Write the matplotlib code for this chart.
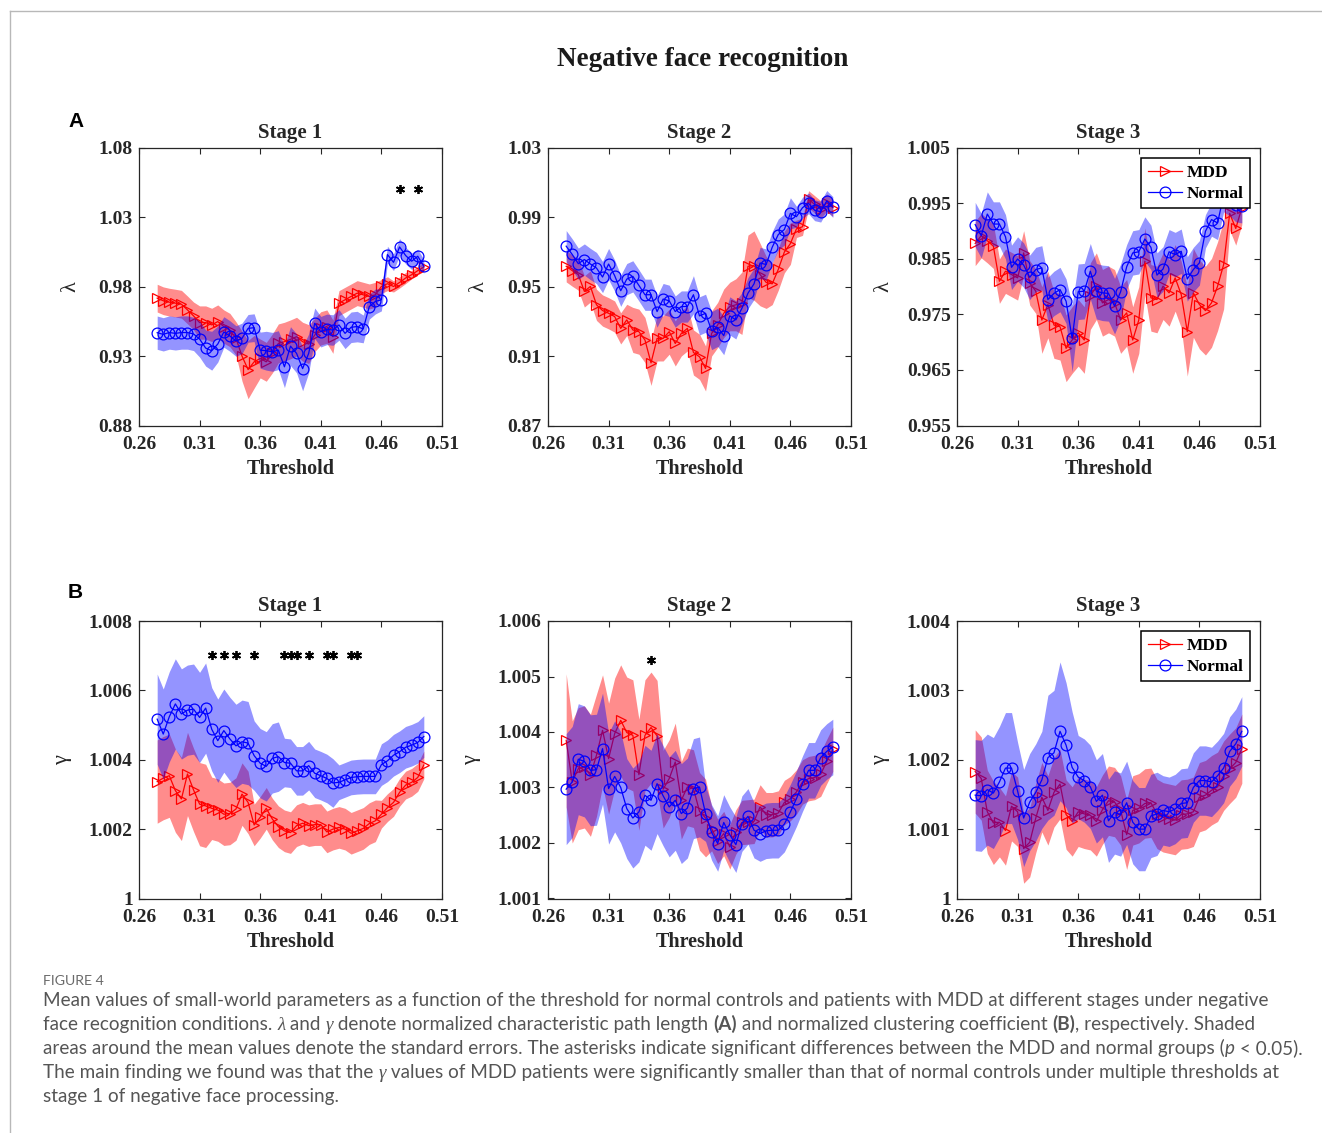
import numpy as np
import matplotlib
matplotlib.use("Agg")
import matplotlib.pyplot as plt
from matplotlib.lines import Line2D

W, H = 1322, 1133
plt.rcParams["font.family"] = ["Liberation Serif", "DejaVu Serif"]
plt.rcParams["font.weight"] = "bold"

# network threshold grid (x axis)
thresholds = np.round(0.275 + 0.005 * np.arange(45), 3)

# ---------------- lambda, stage 1 ----------------
lam1_mdd = [0.9718, 0.9699, 0.9689, 0.9682, 0.9674, 0.9633, 0.9590, 0.9542, 0.9542, 0.9525,
            0.9549, 0.9513, 0.9488, 0.9428, 0.9300, 0.9203, 0.9259, 0.9283, 0.9259, 0.9319,
            0.9392, 0.9404, 0.9421, 0.9440, 0.9404, 0.9387, 0.9452, 0.9500, 0.9513, 0.9440,
            0.9682, 0.9706, 0.9730, 0.9754, 0.9742, 0.9730, 0.9742, 0.9802, 0.9822, 0.9802,
            0.9831, 0.9863, 0.9887, 0.9916, 0.9942]
lam1_mdd_se = [0.010] * 7 + [0.012] * 7 + [0.018, 0.021, 0.019] + [0.014] * 9 + [0.012] * 4 + \
              [0.009] * 7 + [0.005, 0.005, 0.004, 0.004, 0.004, 0.003, 0.003, 0.003]
lam1_norm = [0.9469, 0.9457, 0.9470, 0.9464, 0.9470, 0.9470, 0.9460, 0.9423, 0.9358, 0.9339,
             0.9387, 0.9474, 0.9445, 0.9409, 0.9428, 0.9500, 0.9505, 0.9343, 0.9339, 0.9331,
             0.9343, 0.9223, 0.9372, 0.9320, 0.9210, 0.9320, 0.9537, 0.9476, 0.9493, 0.9488,
             0.9525, 0.9464, 0.9508, 0.9513, 0.9496, 0.9657, 0.9694, 0.9706, 1.0032, 0.9976,
             1.0087, 1.0025, 0.9984, 1.0020, 0.9947]
lam1_norm_se = [0.012] * 7 + [0.013, 0.013, 0.014, 0.013] + [0.011, 0.011, 0.011, 0.011, 0.010, 0.010] + \
               [0.013, 0.014, 0.014, 0.014, 0.015, 0.014, 0.014, 0.016, 0.014] + [0.011] * 8 + [0.010] + \
               [0.009, 0.009, 0.008] + [0.006] * 5 + [0.005, 0.005]
lam1_sig = [0.475, 0.49]

# ---------------- lambda, stage 2 ----------------
lam2_mdd = [0.9618, 0.9593, 0.9570, 0.9473, 0.9502, 0.9396, 0.9363, 0.9347, 0.9328, 0.9260,
            0.9309, 0.9251, 0.9241, 0.9193, 0.9061, 0.9202, 0.9202, 0.9241, 0.9173, 0.9231,
            0.9260, 0.9121, 0.9096, 0.9029, 0.9231, 0.9280, 0.9347, 0.9386, 0.9396, 0.9405,
            0.9618, 0.9622, 0.9570, 0.9525, 0.9517, 0.9600, 0.9700, 0.9749, 0.9834, 0.9846,
            1.0004, 0.9975, 0.9946, 0.9985, 0.9956]
lam2_mdd_se = [0.009] * 11 + [0.013] * 15 + [0.014, 0.014, 0.015, 0.018, 0.018, 0.020, 0.018, 0.015] + \
              [0.012] * 4 + [0.005] * 7
lam2_norm = [0.9734, 0.9686, 0.9633, 0.9657, 0.9631, 0.9608, 0.9556, 0.9631, 0.9564, 0.9477,
             0.9544, 0.9560, 0.9508, 0.9454, 0.9454, 0.9357, 0.9429, 0.9419, 0.9357, 0.9386,
             0.9386, 0.9454, 0.9332, 0.9347, 0.9247, 0.9266, 0.9218, 0.9332, 0.9309, 0.9376,
             0.9463, 0.9517, 0.9637, 0.9628, 0.9728, 0.9801, 0.9830, 0.9923, 0.9904, 0.9956,
             0.9981, 0.9941, 0.9933, 0.9995, 0.9960]
lam2_norm_se = [0.009] * 21 + [0.011] * 8 + [0.009] * 9 + [0.006] * 7

# ---------------- lambda, stage 3 ----------------
lam3_mdd = [0.9878, 0.9892, 0.9883, 0.9873, 0.9810, 0.9828, 0.9822, 0.9816, 0.9861, 0.9807,
            0.9792, 0.9740, 0.9768, 0.9731, 0.9728, 0.9689, 0.9704, 0.9717, 0.9704, 0.9783,
            0.9801, 0.9771, 0.9777, 0.9771, 0.9740, 0.9753, 0.9704, 0.9740, 0.9846, 0.9780,
            0.9777, 0.9801, 0.9789, 0.9816, 0.9786, 0.9719, 0.9789, 0.9768, 0.9757, 0.9771,
            0.9801, 0.9840, 0.9932, 0.9905, 0.9942]
lam3_mdd_se = [0.004] * 11 + [0.006] * 24 + [0.008] * 7 + [0.003] * 3
lam3_norm = [0.9912, 0.9892, 0.9931, 0.9913, 0.9913, 0.9890, 0.9835, 0.9850, 0.9839, 0.9817,
             0.9831, 0.9834, 0.9777, 0.9788, 0.9795, 0.9774, 0.9707, 0.9791, 0.9792, 0.9828,
             0.9792, 0.9789, 0.9788, 0.9765, 0.9791, 0.9836, 0.9861, 0.9863, 0.9886, 0.9871,
             0.9821, 0.9832, 0.9863, 0.9858, 0.9864, 0.9814, 0.9831, 0.9843, 0.9900, 0.9921,
             0.9915, 0.9965, 0.9958, 0.9947, 0.9945]
lam3_norm_se = [0.004] * 16 + [0.006] + [0.005] * 8 + [0.004] * 13 + [0.003] * 7

# ---------------- gamma, stage 1 ----------------
gam1_mdd = [1.00337, 1.00347, 1.00354, 1.00311, 1.00287, 1.00359, 1.00313, 1.00272, 1.00267, 1.00260,
            1.00255, 1.00243, 1.00245, 1.00258, 1.00301, 1.00277, 1.00212, 1.00234, 1.00260, 1.00229,
            1.00207, 1.00195, 1.00190, 1.00210, 1.00217, 1.00210, 1.00213, 1.00213, 1.00192, 1.00200,
            1.00205, 1.00200, 1.00188, 1.00195, 1.00202, 1.00216, 1.00224, 1.00243, 1.00262, 1.00277,
            1.00306, 1.00327, 1.00335, 1.00349, 1.00385]
gam1_mdd_se = [0.0012] * 9 + [0.0009] * 7 + [0.0006] * 21 + [0.0004] * 8
gam1_norm = [1.00517, 1.00474, 1.00524, 1.00561, 1.00532, 1.00543, 1.00546, 1.00522, 1.00549, 1.00488,
             1.00455, 1.00484, 1.00460, 1.00440, 1.00452, 1.00448, 1.00412, 1.00390, 1.00381, 1.00404,
             1.00409, 1.00392, 1.00390, 1.00368, 1.00368, 1.00383, 1.00361, 1.00354, 1.00346, 1.00333,
             1.00335, 1.00342, 1.00349, 1.00351, 1.00352, 1.00352, 1.00352, 1.00386, 1.00397, 1.00413,
             1.00423, 1.00436, 1.00442, 1.00450, 1.00467]
gam1_norm_se = [0.0013] * 9 + [0.0012] * 7 + [0.0010] * 5 + [0.0007] * 9 + [0.0005] * 7 + [0.0006] * 8
gam1_sig = [0.32, 0.33, 0.34, 0.355, 0.38, 0.385, 0.39, 0.40, 0.415, 0.42, 0.435, 0.44]

# ---------------- gamma, stage 2 ----------------
gam2_mdd = [1.00385, 1.00310, 1.00334, 1.00337, 1.00322, 1.00358, 1.00403, 1.00352, 1.00397, 1.00421,
            1.00399, 1.00394, 1.00323, 1.00394, 1.00408, 1.00393, 1.00297, 1.00316, 1.00346, 1.00277,
            1.00301, 1.00298, 1.00257, 1.00245, 1.00226, 1.00203, 1.00217, 1.00193, 1.00220, 1.00237,
            1.00238, 1.00239, 1.00265, 1.00251, 1.00251, 1.00254, 1.00273, 1.00280, 1.00292, 1.00310,
            1.00316, 1.00318, 1.00324, 1.00347, 1.00369]
gam2_mdd_se = [0.0012] + [0.0011] * 5 + [0.0010] * 10 + [0.0007] * 8 + [0.0004] * 21
gam2_norm = [1.00297, 1.00310, 1.00351, 1.00347, 1.00331, 1.00332, 1.00370, 1.00298, 1.00320, 1.00300,
             1.00262, 1.00245, 1.00256, 1.00286, 1.00277, 1.00307, 1.00285, 1.00265, 1.00277, 1.00253,
             1.00263, 1.00298, 1.00301, 1.00253, 1.00219, 1.00199, 1.00237, 1.00215, 1.00197, 1.00235,
             1.00248, 1.00223, 1.00217, 1.00222, 1.00223, 1.00223, 1.00234, 1.00256, 1.00280, 1.00307,
             1.00331, 1.00331, 1.00354, 1.00365, 1.00373]
gam2_norm_se = [0.0010] * 10 + [0.0009] * 13 + [0.0005] * 22
gam2_sig = [0.345]

# ---------------- gamma, stage 3 ----------------
gam3_mdd = [1.00183, 1.00173, 1.00125, 1.00109, 1.00110, 1.00098, 1.00133, 1.00125, 1.00072, 1.00081,
            1.00116, 1.00146, 1.00127, 1.00153, 1.00165, 1.00121, 1.00111, 1.00125, 1.00122, 1.00120,
            1.00111, 1.00128, 1.00141, 1.00139, 1.00127, 1.00092, 1.00127, 1.00130, 1.00137, 1.00138,
            1.00122, 1.00117, 1.00115, 1.00113, 1.00121, 1.00122, 1.00125, 1.00146, 1.00149, 1.00156,
            1.00161, 1.00177, 1.00187, 1.00196, 1.00216]
gam3_mdd_se = [0.0006] * 4 + [0.0005] * 41
gam3_norm = [1.00149, 1.00148, 1.00157, 1.00152, 1.00168, 1.00188, 1.00188, 1.00155, 1.00116, 1.00139,
             1.00153, 1.00171, 1.00203, 1.00210, 1.00241, 1.00221, 1.00189, 1.00175, 1.00170, 1.00161,
             1.00140, 1.00149, 1.00112, 1.00124, 1.00121, 1.00138, 1.00110, 1.00100, 1.00100, 1.00119,
             1.00122, 1.00127, 1.00125, 1.00129, 1.00137, 1.00138, 1.00160, 1.00170, 1.00170, 1.00168,
             1.00177, 1.00188, 1.00212, 1.00223, 1.00241]
gam3_norm_se = [0.0008] * 7 + [0.0007] * 5 + [0.0009, 0.0009, 0.0010, 0.0009, 0.0008] + [0.0006] * 14 + [0.0005] * 14

# axis ticks
x_ticks = [0.26, 0.31, 0.36, 0.41, 0.46, 0.51]
x_tick_labels = ["0.26", "0.31", "0.36", "0.41", "0.46", "0.51"]
lam1_ticks = ["0.88", "0.93", "0.98", "1.03", "1.08"]
lam2_ticks = ["0.87", "0.91", "0.95", "0.99", "1.03"]
lam3_ticks = ["0.955", "0.965", "0.975", "0.985", "0.995", "1.005"]
gam1_ticks = ["1", "1.002", "1.004", "1.006", "1.008"]
gam2_ticks = ["1.001", "1.002", "1.003", "1.004", "1.005", "1.006"]
gam3_ticks = ["1", "1.001", "1.002", "1.003", "1.004"]

stage_titles = ["Stage 1", "Stage 2", "Stage 3"]
group_names = ["MDD", "Normal"]

panels = [
    dict(r=0, c=0, sym="λ", mdd=lam1_mdd, mse=lam1_mdd_se, nrm=lam1_norm, nse=lam1_norm_se, ticks=lam1_ticks, sig=lam1_sig, sig_y=1.0504),
    dict(r=0, c=1, sym="λ", mdd=lam2_mdd, mse=lam2_mdd_se, nrm=lam2_norm, nse=lam2_norm_se, ticks=lam2_ticks, sig=[], sig_y=None),
    dict(r=0, c=2, sym="λ", mdd=lam3_mdd, mse=lam3_mdd_se, nrm=lam3_norm, nse=lam3_norm_se, ticks=lam3_ticks, sig=[], sig_y=None),
    dict(r=1, c=0, sym="γ", mdd=gam1_mdd, mse=gam1_mdd_se, nrm=gam1_norm, nse=gam1_norm_se, ticks=gam1_ticks, sig=gam1_sig, sig_y=1.00702),
    dict(r=1, c=1, sym="γ", mdd=gam2_mdd, mse=gam2_mdd_se, nrm=gam2_norm, nse=gam2_norm_se, ticks=gam2_ticks, sig=gam2_sig, sig_y=1.0053),
    dict(r=1, c=2, sym="γ", mdd=gam3_mdd, mse=gam3_mdd_se, nrm=gam3_norm, nse=gam3_norm_se, ticks=gam3_ticks, sig=[], sig_y=None),
]

fig = plt.figure(figsize=(W / 100, H / 100), dpi=100)
fig.patch.set_facecolor("white")

col_left = [139, 548, 957]
row_top = [148, 621]
ax_w, ax_h = 303, 277.5
ylabel_x = [[-0.195, -0.198, -0.211], [-0.222, -0.222, -0.222]]

serif_bold = dict(family=["Liberation Serif", "DejaVu Serif"], weight="bold")
INK = "#262626"

for p in panels:
    l, t = col_left[p["c"]], row_top[p["r"]]
    ax = fig.add_axes([l / W, 1 - (t + ax_h) / H, ax_w / W, ax_h / H])
    m = np.array(p["mdd"]); ms = np.array(p["mse"])
    n = np.array(p["nrm"]); ns = np.array(p["nse"])

    ax.fill_between(thresholds, m - ms, m + ms, color=(1, 0, 0), alpha=0.45, lw=0, zorder=1)
    ax.plot(thresholds, m, color=(1, 0, 0), marker=">", mfc="none", ms=7.8, mew=0.9, lw=0.9, zorder=2)
    ax.fill_between(thresholds, n - ns, n + ns, color=(0, 0, 1), alpha=0.42, lw=0, zorder=3)
    ax.plot(thresholds, n, color=(0, 0, 1), marker="o", mfc="none", ms=7.8, mew=0.9, lw=0.9, zorder=4)

    if p["sig"]:
        ax.plot(p["sig"], [p["sig_y"]] * len(p["sig"]), ls="none", marker=(6, 2, 0),
                ms=6.5, mew=1.3, color="black", zorder=5)

    yt = [float(s) for s in p["ticks"]]
    ax.set_xlim(0.26, 0.51)
    ax.set_ylim(yt[0], yt[-1])
    ax.set_xticks(x_ticks)
    ax.set_xticklabels(x_tick_labels)
    ax.set_yticks(yt)
    ax.set_yticklabels(p["ticks"])
    ax.tick_params(direction="in", top=True, right=True, length=4, width=0.8,
                   labelsize=14, colors=INK, labelcolor=INK)
    ax.tick_params(axis="x", pad=7.5)
    ax.tick_params(axis="y", pad=4.5)
    for lab in ax.get_xticklabels() + ax.get_yticklabels():
        lab.set_fontweight("bold")
    for sp in ax.spines.values():
        sp.set_color(INK)
        sp.set_linewidth(0.9)

    ax.set_title(stage_titles[p["c"]], fontsize=15, pad=7, color=INK, **serif_bold)
    ax.set_xlabel("Threshold", fontsize=14.5, color=INK, **serif_bold)
    ax.xaxis.set_label_coords(0.5, -0.12)
    ax.set_ylabel(p["sym"], fontsize=16, color=INK, family=["Liberation Serif", "DejaVu Serif"],
                  weight="normal")
    ax.yaxis.set_label_coords(ylabel_x[p["r"]][p["c"]], 0.5)

    if p["c"] == 2:
        handles = [Line2D([], [], color=(1, 0, 0), marker=">", mfc="none", ms=7.8, mew=0.9, lw=0.9),
                   Line2D([], [], color=(0, 0, 1), marker="o", mfc="none", ms=7.8, mew=0.9, lw=0.9)]
        leg = ax.legend(handles, group_names, loc="upper right", frameon=True, fancybox=False,
                        edgecolor="black", framealpha=1, borderpad=0.35, labelspacing=0.3,
                        handlelength=2.0, handletextpad=0.25, borderaxespad=0.6,
                        prop=dict(family="Liberation Serif", weight="bold", size=12.5))
        leg.get_frame().set_linewidth(1.1)
        leg.set_zorder(10)

# main title and panel letters
fig.text(703 / W, 1 - 59 / H, "Negative face recognition", ha="center", va="center",
         fontsize=19.5, color="#1a1a1a", **serif_bold)
fig.text(68 / W, 1 - 127 / H, "A", ha="left", va="baseline", fontsize=15,
         family="Liberation Sans", weight="bold", color="black")
fig.text(68 / W, 1 - 598 / H, "B", ha="left", va="baseline", fontsize=15,
         family="Liberation Sans", weight="bold", color="black")

# page frame (top and left rules)
fig.add_artist(Line2D([10 / W, 1], [1 - 11 / H, 1 - 11 / H], transform=fig.transFigure,
                      color="#b8b8b8", lw=1))
fig.add_artist(Line2D([10 / W, 10 / W], [1 - 11 / H, 0], transform=fig.transFigure,
                      color="#b8b8b8", lw=1))

# caption with mixed styles
CAP = "#555555"
renderer = fig.canvas.get_renderer()


def text_width(s, size, style):
    a = fig.text(0, 0, s + "|", fontsize=size, **style)
    b = fig.text(0, 0, "|", fontsize=size, **style)
    w = a.get_window_extent(renderer).width - b.get_window_extent(renderer).width
    a.remove(); b.remove()
    return w


reg = dict(family="Lato", weight="normal", color=CAP)
bld = dict(family="Lato", weight="bold", color=CAP)
itl = dict(family=["Liberation Serif", "DejaVu Serif"], style="italic", weight="normal", color=CAP)
itp = dict(family="Lato", style="italic", weight="normal", color=CAP)

caption_lines = [
    [("Mean values of small-world parameters as a function of the threshold for normal controls and patients with MDD at different stages under negative", reg)],
    [("face recognition conditions. ", reg), ("λ", itl), (" and ", reg), ("γ", itl),
     (" denote normalized characteristic path length ", reg), ("(A)", bld),
     (" and normalized clustering coefficient ", reg), ("(B)", bld), (", respectively. Shaded", reg)],
    [("areas around the mean values denote the standard errors. The asterisks indicate significant differences between the MDD and normal groups (", reg),
     ("p", itp), (" < 0.05).", reg)],
    [("The main finding we found was that the ", reg), ("γ", itl),
     (" values of MDD patients were significantly smaller than that of normal controls under multiple thresholds at", reg)],
    [("stage 1 of negative face processing.", reg)],
]

base_size = 12.0
w0 = text_width(caption_lines[0][0][0], base_size, reg)
cap_size = base_size * 1222.0 / w0

fig.text(43 / W, 1 - 985 / H, "FIGURE 4", fontsize=10.2, va="baseline", ha="left",
         family="Lato", weight="normal", color="#6a6a6a")

baselines = [1006, 1030, 1054, 1078, 1102]
for runs, yb in zip(caption_lines, baselines):
    x = 43.0
    for s, st in runs:
        fig.text(x / W, 1 - yb / H, s, fontsize=cap_size, va="baseline", ha="left", **st)
        x += text_width(s, cap_size, st)

fig.savefig("out.png", dpi=100, facecolor="white")
